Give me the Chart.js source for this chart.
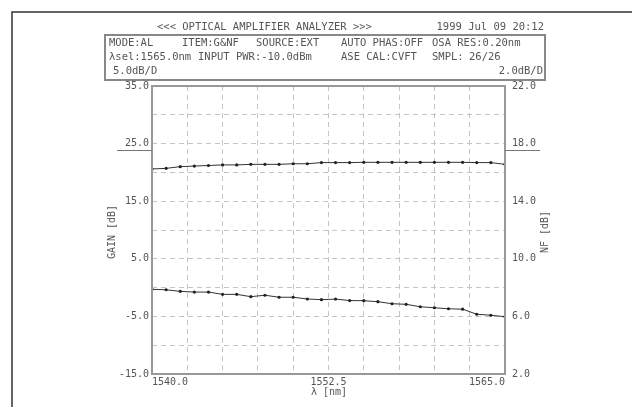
<!DOCTYPE html>
<html>
<head>
<meta charset="utf-8">
<script src="https://cdn.jsdelivr.net/npm/chart.js@4.4.0/dist/chart.umd.min.js"></script>
<style>
  html, body { margin: 0; padding: 0; background: #fff; }
  #box { width: 632px; height: 407px; }
</style>
</head>
<body>
<div id="box"><canvas id="oaa"></canvas></div>
<script>
// wavelength samples [nm], 26/26
var wavelengths = [1540, 1541, 1542, 1543, 1544, 1545, 1546, 1547, 1548, 1549, 1550, 1551, 1552,
                   1553, 1554, 1555, 1556, 1557, 1558, 1559, 1560, 1561, 1562, 1563, 1564, 1565]
// gain [dB], left axis
var gain = [20.6, 20.7, 21.0, 21.1, 21.2, 21.3, 21.3, 21.4, 21.4, 21.4, 21.5, 21.5, 21.7,
            21.7, 21.7, 21.75, 21.75, 21.75, 21.75, 21.75, 21.75, 21.75, 21.75, 21.7, 21.7, 21.4]
// noise figure [dB], right axis
var nf = [7.88, 7.85, 7.74, 7.69, 7.69, 7.53, 7.53, 7.37, 7.47, 7.33, 7.33, 7.21, 7.16,
          7.2, 7.1, 7.09, 7.02, 6.88, 6.84, 6.67, 6.6, 6.53, 6.5, 6.15, 6.08, 5.98]

var xTickLabels = ['1540.0', '1552.5', '1565.0']
var headerLines = [
    [['MODE:AL', 109], ['ITEM:G&NF', 182], ['SOURCE:EXT', 256], ['AUTO PHAS:OFF', 341], ['OSA RES:0.20nm', 432]],
    [['λsel:1565.0nm', 109], ['INPUT PWR:-10.0dBm', 198], ['ASE CAL:CVFT', 341], ['SMPL:', 432], ['26/26', 469]],
    [['5.0dB/D', 113]]
]

var mono = '"DejaVu Sans Mono", "Liberation Mono", monospace'
var txt = '#555'

function pts(ys) {
    return wavelengths.map(function (w, i) { return { x: w, y: ys[i] } })
}

var decor = {
    id: 'decor',
    afterDraw: function (c) {
        var ctx = c.ctx, a = c.chartArea
        ctx.save()
        // outer frame
        ctx.strokeStyle = '#333'
        ctx.lineWidth = 1.5
        ctx.beginPath()
        ctx.moveTo(12, 407)
        ctx.lineTo(12, 12)
        ctx.lineTo(632, 12)
        ctx.stroke()

        // header
        ctx.fillStyle = txt
        ctx.font = '10.5px ' + mono
        ctx.textBaseline = 'middle'
        ctx.textAlign = 'left'
        ctx.fillText('<<< OPTICAL AMPLIFIER ANALYZER >>>', 157, 27)
        ctx.textAlign = 'right'
        ctx.fillText('1999 Jul 09 20:12', 544, 27)

        ctx.strokeStyle = '#888'
        ctx.lineWidth = 2
        ctx.strokeRect(105, 35, 440, 45)

        ctx.textAlign = 'left'
        var rowY = [43, 57, 71]
        headerLines.forEach(function (row, r) {
            row.forEach(function (t) { ctx.fillText(t[0], t[1], rowY[r]) })
        })
        ctx.textAlign = 'right'
        ctx.fillText('2.0dB/D', 543, 71)

        // plot frame
        ctx.strokeStyle = '#999'
        ctx.lineWidth = 2
        ctx.strokeRect(a.left, a.top, a.right - a.left, a.bottom - a.top)

        // reference marks
        ctx.strokeStyle = '#777'
        ctx.lineWidth = 1
        ctx.beginPath()
        ctx.moveTo(117, 150.5); ctx.lineTo(a.left, 150.5)
        ctx.moveTo(a.right, 150.5); ctx.lineTo(540, 150.5)
        ctx.stroke()

        // x tick labels
        var xs = c.scales.x
        ctx.fillStyle = txt
        ctx.font = '10px ' + mono
        ctx.textBaseline = 'middle'
        var aligns = ['left', 'center', 'right']
        xTickLabels.forEach(function (l, i) {
            ctx.textAlign = aligns[i]
            ctx.fillText(l, xs.getPixelForValue(parseFloat(l)), a.bottom + 8)
        })
        ctx.textAlign = 'center'
        ctx.fillText('λ [nm]', 329, 392)

        // axis titles
        var mid = (a.top + a.bottom) / 2 + 2
        ctx.save()
        ctx.translate(112, mid)
        ctx.rotate(-Math.PI / 2)
        ctx.fillText('GAIN [dB]', 0, 0)
        ctx.restore()
        ctx.save()
        ctx.translate(545, mid)
        ctx.rotate(-Math.PI / 2)
        ctx.fillText('NF [dB]', 0, 0)
        ctx.restore()

        ctx.restore()
    }
}

var grid = {
    color: '#c4c4c4',
    lineWidth: 1,
    drawTicks: false
}

new Chart('oaa', {
    type: 'line',
    data: {
        datasets: [{
            label: 'GAIN',
            data: pts(gain),
            yAxisID: 'y',
            borderColor: '#333',
            backgroundColor: '#222',
            borderWidth: 1,
            pointRadius: 1.6,
            pointBorderWidth: 0,
            tension: 0
        }, {
            label: 'NF',
            data: pts(nf),
            yAxisID: 'y2',
            borderColor: '#333',
            backgroundColor: '#222',
            borderWidth: 1,
            pointRadius: 1.6,
            pointBorderWidth: 0,
            tension: 0
        }]
    },
    options: {
        responsive: true,
        maintainAspectRatio: false,
        animation: false,
        layout: {
            padding: { left: 112, right: 67, top: 86, bottom: 33 }
        },
        plugins: {
            legend: { display: false },
            tooltip: { enabled: false }
        },
        scales: {
            x: {
                type: 'linear',
                min: 1540,
                max: 1565,
                ticks: { display: false, stepSize: 2.5 },
                grid: grid,
                border: { display: false, dash: [5, 4] },
                afterFit: function (s) { s.height = 0 }
            },
            y: {
                position: 'left',
                min: -15,
                max: 35,
                ticks: {
                    stepSize: 5,
                    padding: 3,
                    color: txt,
                    font: { family: mono, size: 10 },
                    callback: function (v) { return (v + 15) % 10 === 0 ? v.toFixed(1) : '' }
                },
                grid: grid,
                border: { display: false, dash: [5, 4] },
                afterFit: function (s) { s.width = 40 }
            },
            y2: {
                position: 'right',
                min: 2,
                max: 22,
                ticks: {
                    stepSize: 2,
                    padding: 7,
                    color: txt,
                    font: { family: mono, size: 10 },
                    callback: function (v) { return (v - 2) % 4 === 0 ? v.toFixed(1) : '' }
                },
                grid: { display: false, drawTicks: false },
                border: { display: false },
                afterFit: function (s) { s.width = 60 }
            }
        }
    },
    plugins: [decor]
})
</script>
</body>
</html>
